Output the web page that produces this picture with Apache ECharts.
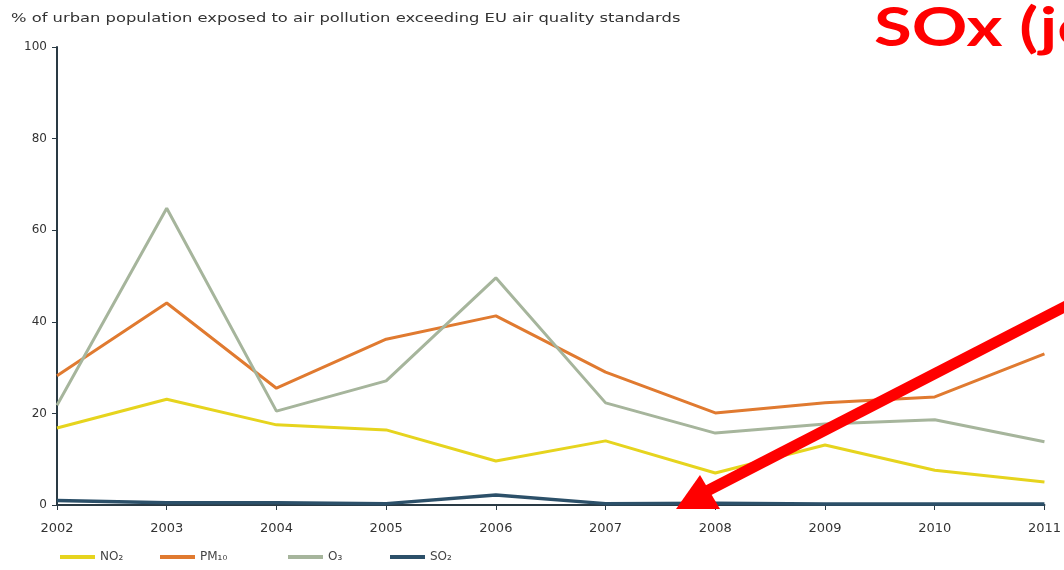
<!DOCTYPE html>
<html>
<head>
<meta charset="utf-8">
<script src="https://cdn.jsdelivr.net/npm/echarts@6/dist/echarts.min.js"></script>
<style>
  html, body { margin: 0; padding: 0; background: #fff; }
  #chart { width: 1064px; height: 570px; }
</style>
</head>
<body>
<div id="chart"></div>
<script>
// years on the x axis
const years = ['2002', '2003', '2004', '2005', '2006', '2007', '2008', '2009', '2010', '2011']
// % of urban population exposed above EU limits
const no2Data = [16.8, 23.1, 17.5, 16.4, 9.6, 14.0, 7.0, 13.1, 7.6, 5.0]
const pm10Data = [28.2, 44.1, 25.5, 36.2, 41.3, 29.0, 20.1, 22.3, 23.6, 33.0]
const o3Data = [21.8, 64.8, 20.5, 27.1, 49.6, 22.3, 15.7, 17.7, 18.6, 13.8]
const so2Data = [1.0, 0.5, 0.5, 0.3, 2.2, 0.3, 0.4, 0.2, 0.2, 0.2]
const seriesNames = ['NO₂', 'PM₁₀', 'O₃', 'SO₂']
const colors = ['#e6d41e', '#e07a30', '#a6b59c', '#2c5069']

const chart = echarts.init(document.getElementById('chart'))
const font = 'DejaVu Sans'

const legendLeft = [55, 155, 283, 385]
const legends = seriesNames.map((n, i) => ({
  data: [n],
  left: legendLeft[i],
  top: 546,
  icon: 'rect',
  itemWidth: 35,
  itemHeight: 4,
  itemGap: 6,
  textStyle: { fontFamily: font, fontSize: 12, color: '#444' }
}))

const lineSeries = (name, data, color, width) => ({
  name: name,
  type: 'line',
  data: data,
  symbol: 'none',
  itemStyle: { color: color },
  lineStyle: { color: color, width: width },
  z: 2
})

chart.setOption({
  animation: false,
  legend: legends,
  grid: { left: 57, right: 19, top: 47, bottom: 65 },
  xAxis: {
    type: 'category',
    data: years,
    boundaryGap: false,
    axisLine: { lineStyle: { color: '#2a3a44', width: 2 } },
    axisTick: { show: true, length: 5, lineStyle: { color: '#2a3a44' } },
    axisLabel: { fontFamily: font, fontSize: 13, color: '#333', margin: 17 },
    splitLine: { show: false }
  },
  yAxis: {
    type: 'value',
    min: 0,
    max: 100,
    interval: 20,
    axisLine: { show: true, lineStyle: { color: '#2a3a44', width: 2 } },
    axisTick: { show: true, length: 5, lineStyle: { color: '#2a3a44' } },
    axisLabel: { fontFamily: font, fontSize: 12, color: '#333', margin: 10 },
    splitLine: { show: false }
  },
  series: [
    lineSeries(seriesNames[0], no2Data, colors[0], 3),
    lineSeries(seriesNames[1], pm10Data, colors[1], 3),
    lineSeries(seriesNames[2], o3Data, colors[2], 3),
    lineSeries(seriesNames[3], so2Data, colors[3], 3.5)
  ],
  graphic: [
    {
      // chart title, source image is stretched sideways
      type: 'text',
      x: 11,
      y: 13,
      scaleX: 1.36,
      style: {
        text: '% of urban population exposed to air pollution exceeding EU air quality standards',
        font: '12px "DejaVu Sans"',
        fill: '#333'
      }
    },
    {
      type: 'text',
      x: 874,
      y: 2,
      scaleX: 1.3,
      style: {
        text: 'SOx (je',
        font: 'bold 53px Lato',
        fill: '#ff0000'
      },
      z: 10
    },
    {
      type: 'line',
      shape: { x1: 1072, y1: 303, x2: 705, y2: 492 },
      style: { stroke: '#ff0000', lineWidth: 11 },
      z: 10
    },
    {
      type: 'polygon',
      shape: { points: [[676, 509], [700, 475], [720, 509]] },
      style: { fill: '#ff0000' },
      z: 10
    }
  ]
})
</script>
</body>
</html>
